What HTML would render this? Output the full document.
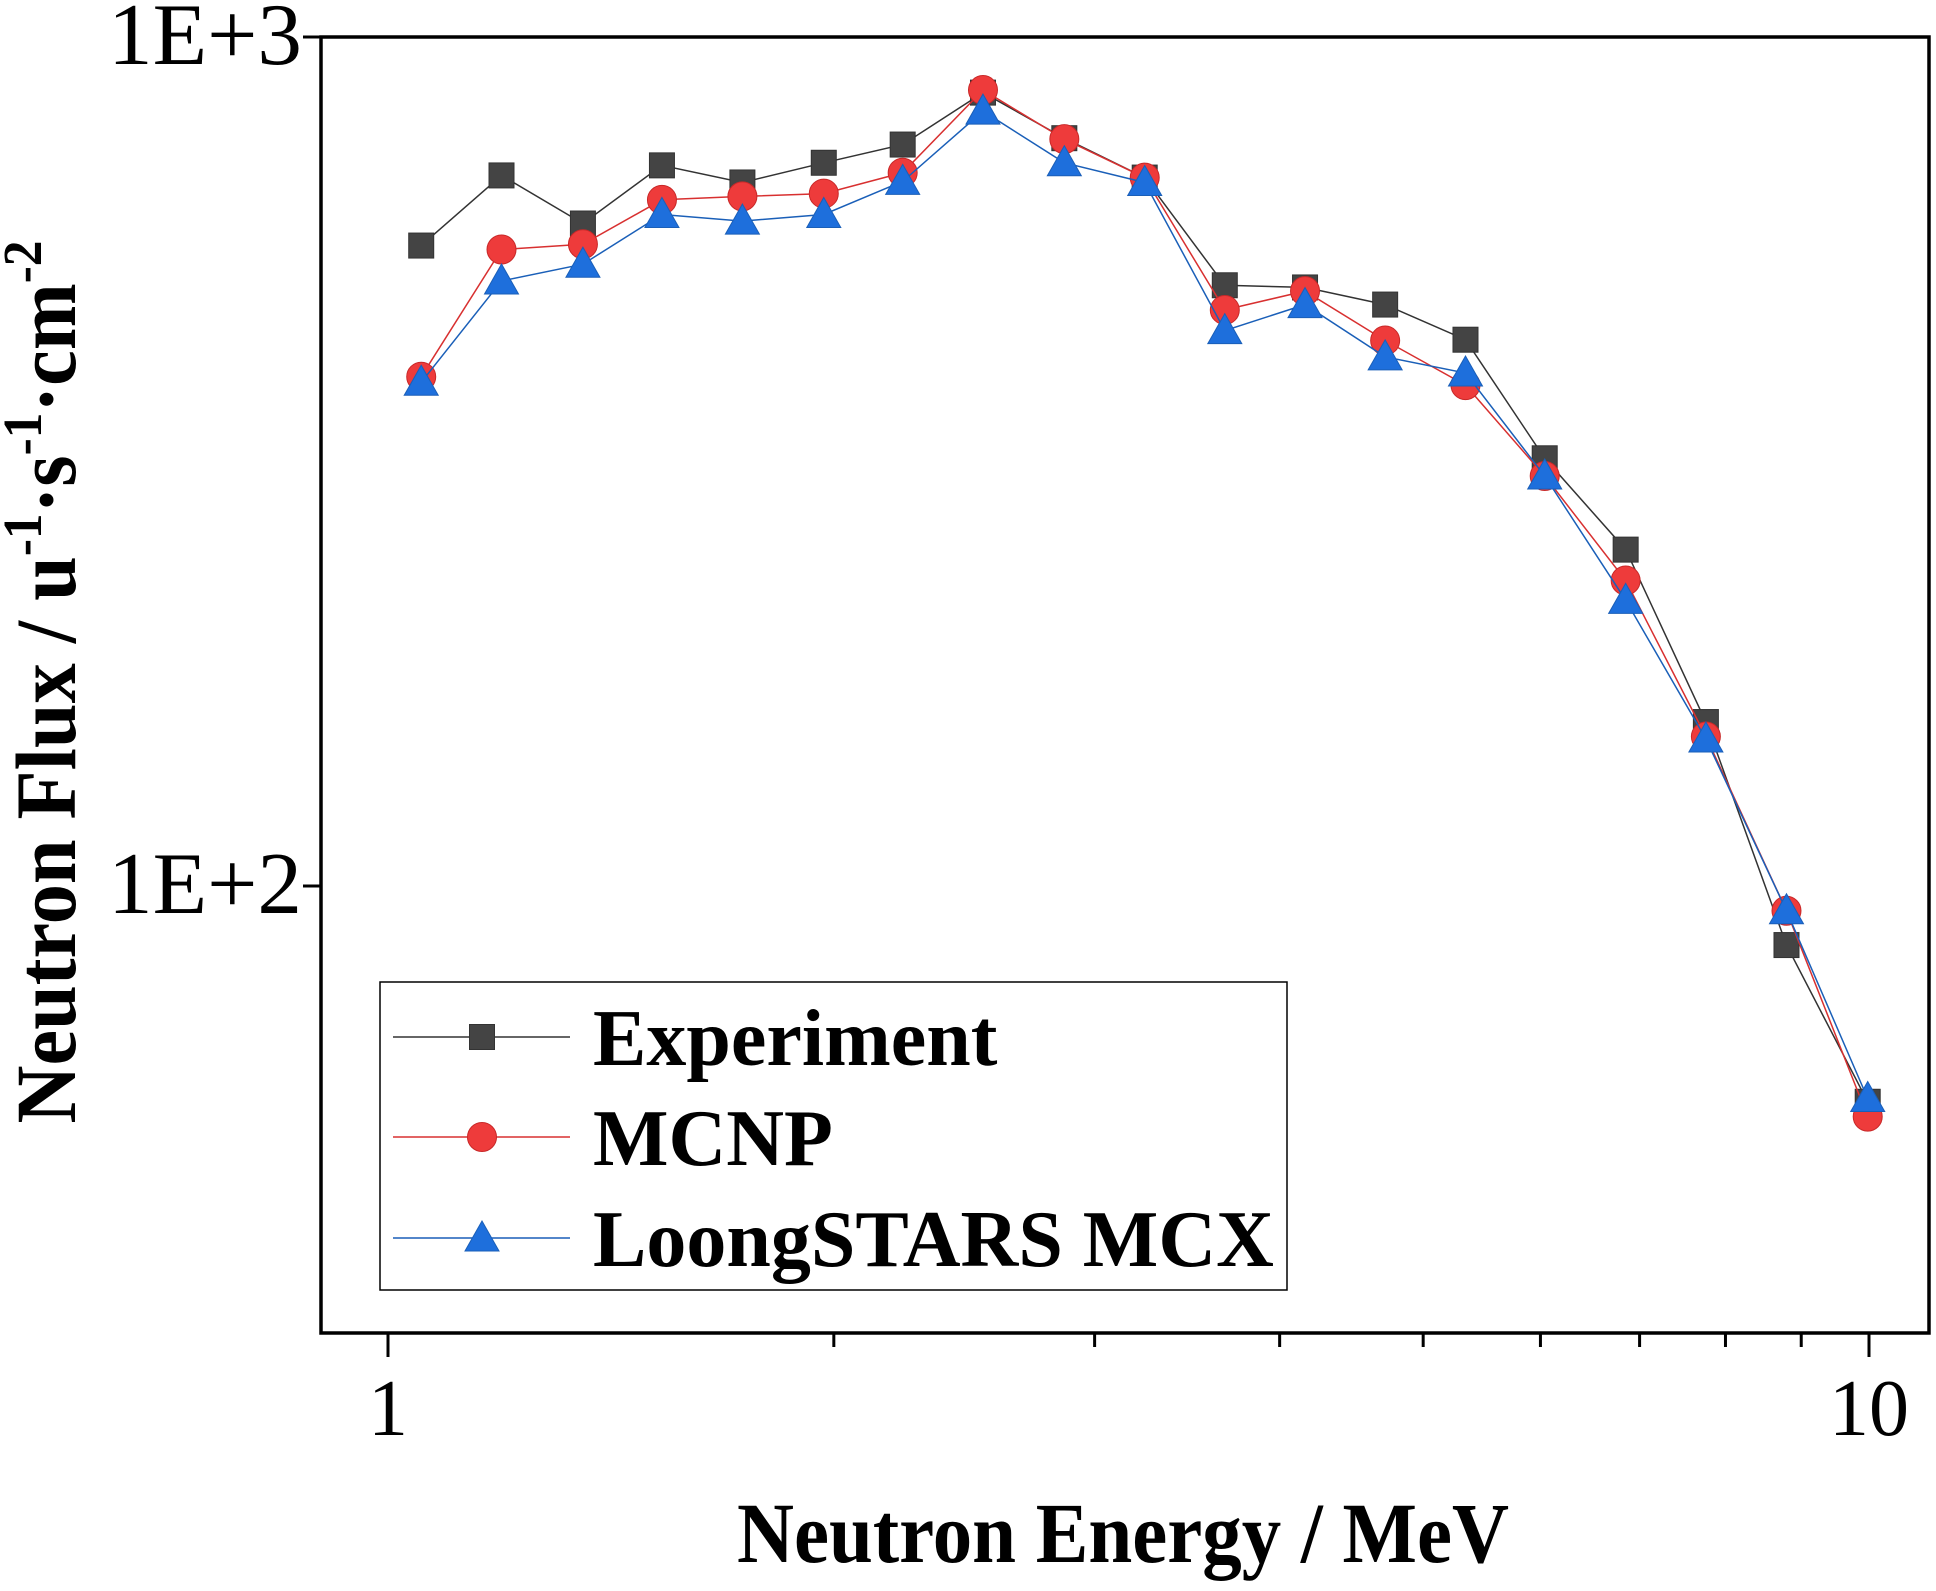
<!DOCTYPE html>
<html><head><meta charset="utf-8"><style>
html,body{margin:0;padding:0;background:#fff;}
svg{display:block;}
text{font-family:"Liberation Serif",serif;fill:#000;}
</style></head><body>
<svg id="chart" width="1936" height="1591" viewBox="0 0 1936 1591" xmlns="http://www.w3.org/2000/svg">
<rect x="0" y="0" width="1936" height="1591" fill="#fff"/>
<g id="series"></g>
<rect x="321" y="37" width="1608" height="1296" fill="none" stroke="#000" stroke-width="3.5"/>
<g id="axes"></g>
<g>
<rect x="380" y="982" width="907" height="308" fill="#fff" stroke="#000" stroke-width="1.5"/>
<g id="legend-entries"></g>
</g>
<text x="1123" y="1562" font-size="86" font-weight="bold" text-anchor="middle" textLength="772" lengthAdjust="spacingAndGlyphs">Neutron Energy / MeV</text>
<text transform="translate(75,682) rotate(-90)" font-size="86" font-weight="bold" text-anchor="middle" textLength="883" lengthAdjust="spacingAndGlyphs">Neutron Flux / u<tspan font-size="55" dy="-34">-1</tspan><tspan dy="34">·s</tspan><tspan font-size="55" dy="-34">-1</tspan><tspan dy="34">·cm</tspan><tspan font-size="55" dy="-34">-2</tspan></text>
</svg>
<script>
const energies=[1.053,1.193,1.354,1.531,1.735,1.969,2.226,2.522,2.862,3.243,3.673,4.161,4.713,5.34,6.04,6.85,7.76,8.796,9.98];
const experiment=[568,687,603,706,674,711,747,860,760,683,510,507,484,440,319,249,156,85.2,55.7];
const mcnp=[398,562,570,643,649,654,692,866,758,683,477,502,439,389,304,229,150,93.5,53.5];
const loong=[392,516,540,618,607,618,676,818,711,674,451,484,420,402,304,217,149,93.5,56.2];
const seriesNames=["Experiment","MCNP","LoongSTARS MCX"];
const xTickLabels=["1","10"];
const yTickLabels=["1E+2","1E+3"];
const xTickValues=[1,10];
const yTickValues=[100,1000];

const NS="http://www.w3.org/2000/svg";
function xs(e){return 388+1481*Math.log10(e);}
function ys(v){return 37+849*(3-Math.log10(v));}
function mk(tag,attrs,parent){const el=document.createElementNS(NS,tag);for(const k in attrs)el.setAttribute(k,attrs[k]);parent.appendChild(el);return el;}

const styles=[
 {line:"#333",fill:"#444",stroke:"#333",shape:"square"},
 {line:"#d83030",fill:"#ee3b3b",stroke:"#c82828",shape:"circle"},
 {line:"#1a5fb8",fill:"#1e6fdc",stroke:"#1a5fb8",shape:"triangle"}
];
function marker(shape,cx,cy,st,parent,name){
 let el;
 if(shape==="square")el=mk("rect",{x:cx-12.5,y:cy-12.5,width:25,height:25,fill:st.fill,stroke:st.stroke,"stroke-width":1},parent);
 else if(shape==="circle")el=mk("circle",{cx:cx,cy:cy,r:14.5,fill:st.fill,stroke:st.stroke,"stroke-width":1},parent);
 else el=mk("polygon",{points:`${cx},${cy-17} ${cx+17},${cy+13} ${cx-17},${cy+13}`,fill:st.fill,stroke:st.stroke,"stroke-width":1},parent);
 
 
 return el;
}
const sg=document.getElementById("series");
const allSeries=[experiment,mcnp,loong];
const keys=["experiment","mcnp","loongstars-mcx"];
allSeries.forEach((vals,i)=>{
 const g=mk("g",{},sg);
 
 
 const pts=vals.map((v,j)=>xs(energies[j]).toFixed(1)+","+ys(v).toFixed(1)).join(" ");
 const pl=mk("polyline",{points:pts,fill:"none",stroke:styles[i].line,"stroke-width":1.5},g);
 
 
 vals.forEach((v,j)=>marker(styles[i].shape,xs(energies[j]),ys(v),styles[i],g,keys[i]+'-point'));
});

const ax=document.getElementById("axes");
for(let d=1;d<=10;d++){
 const x=xs(d);const major=(d===1||d===10);
 const t=mk("line",{x1:x,y1:1333,x2:x,y2:major?1357:1347,stroke:"#000","stroke-width":3},ax);
 
 
}
xTickValues.forEach((v,i)=>{
 const t=mk("text",{x:xs(v),y:1435,"font-size":80,"text-anchor":"middle"},ax);
 t.textContent=xTickLabels[i];
 
 
});
yTickValues.forEach((v,i)=>{
 const y=ys(v);
 const t=mk("line",{x1:303,y1:y,x2:321,y2:y,stroke:"#000","stroke-width":3},ax);
 
 
 const l=mk("text",{x:302,y:y+27,"font-size":88,"text-anchor":"end",textLength:194,lengthAdjust:"spacingAndGlyphs"},ax);
 l.textContent=yTickLabels[i];
 
 
});

const lg=document.getElementById("legend-entries");
const legendY=[1037,1137,1238];
seriesNames.forEach((n,i)=>{
 const g=mk("g",{},lg);
 
 
 mk("line",{x1:393,y1:legendY[i],x2:570,y2:legendY[i],stroke:styles[i].line,"stroke-width":1.5},g);
 marker(styles[i].shape,482,legendY[i],styles[i],g,'legend-marker');
 const t=mk("text",{x:593,y:legendY[i]+28,"font-size":80,"font-weight":"bold"},g);
 t.textContent=n;
 
 
});
</script>
</body></html>
